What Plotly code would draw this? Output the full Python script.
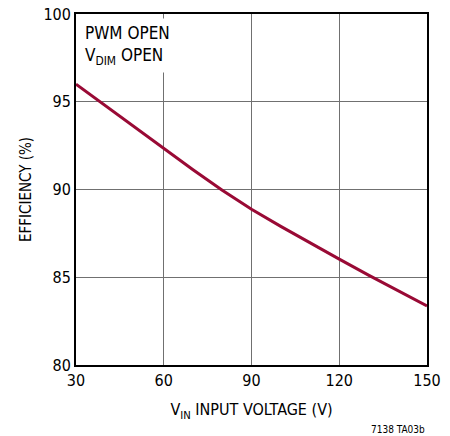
"""Efficiency vs input voltage curve."""

import plotly.graph_objects as go

FONT = "DejaVu Sans Condensed, Liberation Sans Narrow, Roboto, sans-serif"

# Input voltage (V) and efficiency (%)
vin = [30, 40, 50, 60, 70, 80, 90, 100, 110, 120, 130, 140, 150]
efficiency = [96.0, 94.78, 93.55, 92.33, 91.13, 89.96, 88.87, 87.9, 86.95, 86.03, 85.12, 84.23, 83.36]

x_ticks = [30, 60, 90, 120, 150]
y_ticks = [80, 85, 90, 95, 100]

fig = go.Figure()

fig.add_trace(
    go.Scatter(
        x=vin,
        y=efficiency,
        mode="lines",
        line=dict(color="#990a35", width=3),
        showlegend=False,
    )
)

# Note in the upper-left corner, on white so the grid is hidden behind it
fig.add_annotation(
    x=0.0, y=1.0, xref="paper", yref="paper",
    xanchor="left", yanchor="top",
    text="PWM OPEN<br>V<sub>DIM</sub> OPEN",
    showarrow=False, align="left",
    font=dict(family=FONT, size=17, color="black"),
    bgcolor="white", borderpad=4, xshift=4, yshift=-4,
)

# Figure code in the lower-right corner
fig.add_annotation(
    x=1.0, y=-0.183, xref="paper", yref="paper",
    xanchor="right", yanchor="middle",
    text="7138 TA03b", showarrow=False,
    font=dict(family=FONT, size=10, color="black"),
)

fig.update_layout(
    width=450,
    height=436,
    margin=dict(l=76, r=23, t=14, b=71),
    plot_bgcolor="white",
    paper_bgcolor="white",
    font=dict(family=FONT, size=16, color="black"),
    xaxis=dict(
        range=[30, 150],
        tickmode="array",
        tickvals=x_ticks,
        showgrid=True,
        gridcolor="#707070",
        gridwidth=1.3,
        showline=True,
        mirror=True,
        linecolor="black",
        linewidth=1.8,
        ticks="",
        zeroline=False,
        automargin=False,
        title=dict(text="V<sub>IN</sub> INPUT VOLTAGE (V)", standoff=15, font=dict(size=16)),
    ),
    yaxis=dict(
        range=[80, 100],
        tickmode="array",
        tickvals=y_ticks,
        showgrid=True,
        gridcolor="#707070",
        gridwidth=1.3,
        showline=True,
        mirror=True,
        linecolor="black",
        linewidth=1.8,
        ticks="",
        zeroline=False,
        automargin=False,
        title=dict(text="EFFICIENCY (%)", standoff=8, font=dict(size=15)),
    ),
)

# Drop the browser's default page margin so the figure sits at the top-left corner
fig.write_html(
    "out.html",
    config={"displayModeBar": False},
    post_script="document.body.style.margin='0';",
)
